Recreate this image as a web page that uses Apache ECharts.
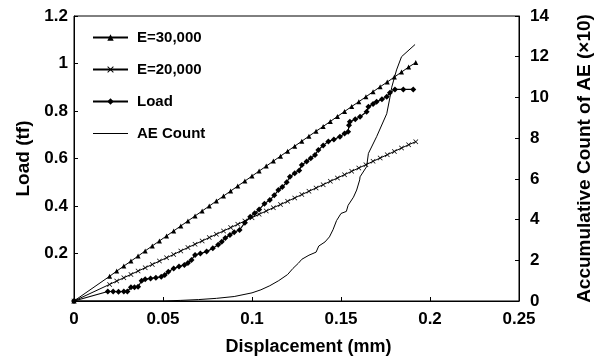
<!DOCTYPE html>
<html>
<head>
<meta charset="utf-8">
<script src="https://cdn.jsdelivr.net/npm/echarts@6/dist/echarts.min.js"></script>
<style>
html,body{margin:0;padding:0;background:#fff;}
#chart{width:604px;height:358px;}
</style>
</head>
<body>
<div id="chart"></div>
<script>
// Displacement (mm) for the two reference lines
var dispE = [0,0.020,0.024,0.028,0.032,0.036,0.040,0.044,0.048,0.052,0.056,0.060,0.064,0.068,0.072,0.076,0.080,0.084,0.088,0.092,0.096,0.100,0.104,0.108,0.112,0.116,0.120,0.124,0.128,0.132,0.136,0.140,0.144,0.148,0.152,0.156,0.160,0.164,0.168,0.172,0.176,0.180,0.184,0.188,0.192];
// E=30,000 load (tf)
var loadE30 = [0,0.104,0.126,0.147,0.168,0.189,0.211,0.232,0.253,0.274,0.295,0.316,0.337,0.358,0.379,0.400,0.421,0.442,0.463,0.484,0.505,0.526,0.547,0.568,0.589,0.610,0.631,0.652,0.673,0.694,0.715,0.735,0.756,0.777,0.798,0.819,0.839,0.860,0.881,0.902,0.922,0.943,0.964,0.985,1.004];
// E=20,000 load (tf)
var loadE20 = [0,0.070,0.084,0.098,0.112,0.126,0.140,0.154,0.168,0.182,0.196,0.211,0.225,0.239,0.253,0.267,0.281,0.295,0.309,0.323,0.337,0.351,0.365,0.379,0.393,0.406,0.420,0.434,0.448,0.462,0.476,0.490,0.504,0.518,0.532,0.546,0.560,0.574,0.588,0.602,0.616,0.630,0.644,0.658,0.671];
// Measured load curve
var dispLoad = [0,0.019,0.022,0.025,0.028,0.030,0.032,0.034,0.036,0.038,0.040,0.043,0.046,0.049,0.051,0.053,0.056,0.059,0.062,0.064,0.066,0.068,0.071,0.0745,0.078,0.081,0.083,0.085,0.0876,0.090,0.093,0.096,0.099,0.1015,0.104,0.107,0.110,0.1125,0.1148,0.117,0.1195,0.1213,0.124,0.1265,0.128,0.1307,0.133,0.1354,0.1373,0.140,0.1429,0.146,0.1494,0.152,0.154,0.1545,0.155,0.158,0.1607,0.1644,0.1654,0.168,0.170,0.173,0.1757,0.1775,0.1803,0.185,0.1906];
var loadMeas = [0,0.040,0.040,0.039,0.040,0.040,0.058,0.058,0.060,0.085,0.092,0.095,0.098,0.102,0.110,0.123,0.137,0.145,0.152,0.160,0.173,0.194,0.200,0.208,0.222,0.237,0.250,0.265,0.278,0.290,0.299,0.330,0.355,0.370,0.385,0.410,0.425,0.445,0.467,0.480,0.500,0.523,0.538,0.550,0.573,0.587,0.601,0.615,0.636,0.655,0.672,0.680,0.692,0.705,0.713,0.740,0.755,0.765,0.776,0.797,0.818,0.830,0.839,0.850,0.860,0.877,0.891,0.891,0.891];
// AE accumulative count (x10)
var dispAE = [0,0.050,0.060,0.070,0.080,0.090,0.100,0.105,0.110,0.115,0.120,0.123,0.126,0.128,0.132,0.136,0.1375,0.141,0.1435,0.1455,0.1475,0.150,0.153,0.154,0.157,0.1588,0.1605,0.1607,0.1644,0.1650,0.1654,0.170,0.1757,0.1775,0.1785,0.1812,0.184,0.1916];
var countAE = [0,0,0.03,0.07,0.13,0.22,0.40,0.55,0.75,1.00,1.30,1.60,1.85,2.05,2.25,2.40,2.70,2.90,3.15,3.50,3.95,4.30,4.40,4.70,5.10,5.45,5.95,6.10,6.60,6.60,7.25,8.07,9.20,10.00,10.50,11.35,12.00,12.60];

var names = ['E=30,000','E=20,000','Load','AE Count'];

function pairs(xs, ys){ var out=[]; for(var i=0;i<xs.length;i++){ out.push([xs[i], ys[i]]); } return out; }

var FONT = '"Liberation Sans", Arial, sans-serif';
var xSym = 'path://M0,1L1,0L5,4L9,0L10,1L6,5L10,9L9,10L5,6L1,10L0,9L4,5Z';
var TXT = {fontFamily:FONT, fontSize:17, fontWeight:'bold', color:'#000'};
var NAME = {fontFamily:FONT, fontSize:19, fontWeight:'bold', color:'#000'};

var chart = echarts.init(document.getElementById('chart'), null, {renderer:'canvas'});
chart.setOption({
  animation:false,
  backgroundColor:'#fff',
  textStyle:{fontFamily:FONT, color:'#000'},
  grid:{left:74, right:85, top:16, bottom:57, show:true, borderColor:'#000', borderWidth:1,
        backgroundColor:'transparent', containLabel:false, outerBoundsMode:'none'},
  legend:{
    orient:'vertical', left:87, top:25, itemWidth:35, itemHeight:8, itemGap:17,
    textStyle:{fontFamily:FONT, fontSize:15, fontWeight:'bold', color:'#000', padding:[0,0,0,4]},
    data:[names[0], names[1], names[2], {name:names[3], icon:'path://M0,0L70,0L70,2L0,2Z'}]
  },
  xAxis:{
    type:'value', min:0, max:0.25, interval:0.05,
    name:'Displacement (mm)', nameLocation:'middle', nameGap:37,
    nameTextStyle:Object.assign({}, NAME, {fontSize:18, padding:[0,0,0,24]}),
    axisLine:{show:true, onZero:false, lineStyle:{color:'#000', width:1}},
    axisTick:{show:true, inside:true, length:4, lineStyle:{color:'#000'}},
    axisLabel:Object.assign({}, TXT, {margin:10,
      formatter:function(v){ return String(+v.toFixed(2)); }}),
    splitLine:{show:false}
  },
  yAxis:[{
    type:'value', min:0, max:1.2, interval:0.2, position:'left',
    name:'Load (tf)', nameLocation:'middle', nameGap:41, nameRotate:90,
    nameTextStyle:NAME,
    axisLine:{show:true, lineStyle:{color:'#000', width:1}},
    axisTick:{show:true, inside:true, length:4, lineStyle:{color:'#000'}},
    axisLabel:Object.assign({}, TXT, {margin:6,
      formatter:function(v){ return v===0 ? '' : String(+v.toFixed(1)); }}),
    splitLine:{show:false}
  },{
    type:'value', min:0, max:14, interval:2, position:'right',
    name:'Accumulative Count of AE (×10)', nameLocation:'middle', nameGap:56, nameRotate:90,
    nameTextStyle:NAME,
    axisLine:{show:true, lineStyle:{color:'#000', width:1}},
    axisTick:{show:true, inside:true, length:4, lineStyle:{color:'#000'}},
    axisLabel:Object.assign({}, TXT, {margin:11}),
    splitLine:{show:false}
  }],
  series:[
    {name:names[0], type:'line', yAxisIndex:0, data:pairs(dispE, loadE30),
     symbol:'triangle', symbolSize:5, showAllSymbol:true,
     lineStyle:{color:'#000', width:1}, itemStyle:{color:'#000'}},
    {name:names[1], type:'line', yAxisIndex:0, data:pairs(dispE, loadE20),
     symbol:xSym, symbolSize:5, showAllSymbol:true,
     lineStyle:{color:'#000', width:1}, itemStyle:{color:'#000'}},
    {name:names[2], type:'line', yAxisIndex:0, data:pairs(dispLoad, loadMeas),
     symbol:'diamond', symbolSize:6, showAllSymbol:true,
     lineStyle:{color:'#000', width:1.2}, itemStyle:{color:'#000'}},
    {name:names[3], type:'line', yAxisIndex:1, data:pairs(dispAE, countAE),
     symbol:'none',
     lineStyle:{color:'#000', width:1}, itemStyle:{color:'#000'}}
  ]
});
</script>
</body>
</html>
